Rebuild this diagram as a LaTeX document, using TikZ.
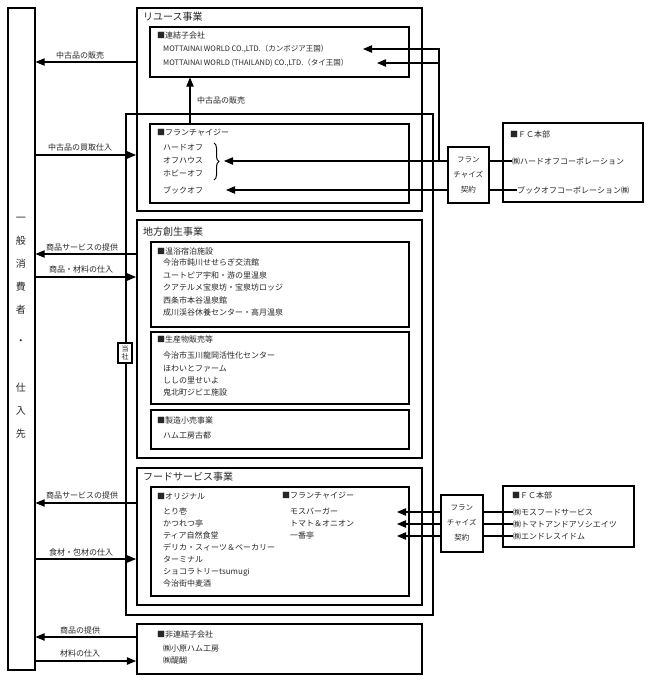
\documentclass[tikz,border=0pt]{standalone}
\usepackage{fontspec}
\setmainfont{Noto Sans CJK JP}
\usetikzlibrary{arrows,decorations.pathreplacing}

\begin{document}
\begin{tikzpicture}
  [x=1pt,y=-1pt,
   every node/.style={inner sep=0,text=black!85,font=\fontsize{8}{12}\selectfont},
   box/.style={draw=black,line width=1.6pt,anchor=north west},
   head/.style={anchor=west},
   title/.style={anchor=west,font=\fontsize{10}{12}\selectfont},
   list/.style={anchor=north west,align=left,font=\fontsize{8}{12.3}\selectfont},
   deal/.style={box,align=center,font=\fontsize{7.5}{15}\selectfont},
   arr/.style={line width=1.1pt,arrows={-{triangle 45}}},
   wire/.style={line width=1.2pt}]
  \useasboundingbox (0,0) rectangle (648,680);

  % general consumers / suppliers
  \node[box,minimum width=27pt,minimum height=662pt] (consumer) at (7,7) {};
  \node[anchor=north,align=center,font=\fontsize{10}{12}\selectfont] (consumertext) at (21,216.5)
    {一\\[11pt]般\\[11pt]消\\[11pt]費\\[11pt]者\\[19pt]・\\[35pt]仕\\[11pt]入\\[11pt]先};

  % the company
  \node[box,minimum width=307pt,minimum height=501pt] (tosha) at (125,113) {};
  \node[draw=black,line width=1.3pt,fill=white,minimum width=14pt,minimum height=20pt,align=center,
        font=\fontsize{7}{8.5}\selectfont] (toshalbl) at (125,353) {当\\社};

  % reuse
  \node[box,minimum width=285pt,minimum height=203pt] (reuse) at (136,7) {};
  \node[title] (reusettl) at (143,17) {リユース事業};
  \node[box,minimum width=259pt,minimum height=50pt] (sub) at (149,26) {};
  \node[head] (subhd) at (157,35) {■連結子会社};
  \node[list,font=\fontsize{7.5}{14}\selectfont] (sublist) at (163,45)
    {MOTTAINAI WORLD CO.,LTD.（カンボジア王国）\\MOTTAINAI WORLD (THAILAND) CO.,LTD.（タイ王国）};
  \node[box,minimum width=259pt,minimum height=79pt] (fr) at (149,123) {};
  \node[head] (frhd) at (157,133) {■フランチャイジー};
  \node[list,font=\fontsize{8}{13}\selectfont] (frlist) at (163,143.8) {ハードオフ\\オフハウス\\ホビーオフ};
  \node[head] (bookoff) at (163,190) {ブックオフ};
  \node[anchor=west] (uplbl) at (197,100) {中古品の販売};

  % regional revitalization
  \node[box,minimum width=285pt,minimum height=238pt] (local) at (136,219) {};
  \node[title] (localttl) at (143,232) {地方創生事業};
  \node[box,minimum width=258pt,minimum height=85pt] (spa) at (150,241) {};
  \node[head] (spahd) at (157,251) {■温浴宿泊施設};
  \node[list,font=\fontsize{8}{12.5}\selectfont] (spalist) at (163,258.8)
    {今治市鈍川せせらぎ交流館\\ユートピア宇和・游の里温泉\\クアテルメ宝泉坊・宝泉坊ロッジ\\西条市本谷温泉館\\成川渓谷休養センター・高月温泉};
  \node[box,minimum width=258pt,minimum height=72pt] (prod) at (150,331) {};
  \node[head] (prodhd) at (157,339) {■生産物販売等};
  \node[list] (prodlist) at (163,351.8)
    {今治市玉川龍岡活性化センター\\ほわいとファーム\\ししの里せいよ\\鬼北町ジビエ施設};
  \node[box,minimum width=258pt,minimum height=39pt] (mfg) at (150,409) {};
  \node[head] (mfghd) at (157,420) {■製造小売事業};
  \node[head] (mfgitem) at (163,435) {ハム工房古都};

  % food service
  \node[box,minimum width=285pt,minimum height=137pt] (food) at (136,467) {};
  \node[title] (foodttl) at (143,477) {フードサービス事業};
  \node[box,minimum width=258pt,minimum height=109pt] (foodin) at (150,486) {};
  \node[head] (orighd) at (157,496) {■オリジナル};
  \node[list,font=\fontsize{8}{12}\selectfont] (origlist) at (163,507.8)
    {とり壱\\かつれつ亭\\ティア自然食堂\\デリカ・スィーツ＆ベーカリー\\ターミナル\\ショコラトリーtsumugi\\今治街中麦酒};
  \node[head] (ffrhd) at (282,496) {■フランチャイジー};
  \node[list,font=\fontsize{8}{12}\selectfont] (ffrlist) at (290,507.8) {モスバーガー\\トマト＆オニオン\\一番亭};

  % non-consolidated
  \node[box,minimum width=285pt,minimum height=50pt] (nonsub) at (136,623) {};
  \node[head] (nonsubhd) at (157,634) {■非連結子会社};
  \node[list] (nonsublist) at (163,644.8) {㈱小原ハム工房\\㈱醍醐};

  % franchise contracts and head offices
  \node[deal,minimum width=41pt,minimum height=56pt] (fc1) at (447,146) {フラン\\チャイズ\\契約};
  \node[box,minimum width=140pt,minimum height=79pt] (hq1) at (502,122) {};
  \node[head] (hq1hd) at (510,134) {■ＦＣ本部};
  \node[head] (hardoff) at (512,161) {㈱ハードオフコーポレーション};
  \node[head] (bookoffco) at (517,190) {ブックオフコーポレーション㈱};

  \node[deal,minimum width=42pt,minimum height=57pt] (fc2) at (440,494) {フラン\\チャイズ\\契約};
  \node[box,minimum width=131pt,minimum height=61pt] (hq2) at (502,485) {};
  \node[head] (hq2hd) at (512,495) {■ＦＣ本部};
  \node[head] (mos) at (513,512) {㈱モスフードサービス};
  \node[head] (tomato) at (513,524) {㈱トマトアンドアソシエイツ};
  \node[head] (endless) at (513,536) {㈱エンドレスイドム};

  % flows with consumers
  \node (l1) at (80,55) {中古品の販売};
  \node (l2) at (80,147) {中古品の買取仕入};
  \node (l3) at (82,247) {商品サービスの提供};
  \node (l4) at (81,269) {商品・材料の仕入};
  \node (l5) at (82,495) {商品サービスの提供};
  \node (l6) at (81,552) {食材・包材の仕入};
  \node (l7) at (80,630) {商品の提供};
  \node (l8) at (80,653) {材料の仕入};

  \coordinate (y1) at (0,62);
  \coordinate (y2) at (0,155);
  \coordinate (y3) at (0,254);
  \coordinate (y4) at (0,277);
  \coordinate (y5) at (0,503);
  \coordinate (y6) at (0,559);
  \coordinate (y7) at (0,637);
  \coordinate (y8) at (0,661);
  \draw[arr] (reuse.west |- y1) -- (consumer.east |- y1);
  \draw[arr] (consumer.east |- y2) -- (reuse.west |- y2);
  \draw[arr] (local.west |- y3) -- (consumer.east |- y3);
  \draw[arr] (consumer.east |- y4) -- (local.west |- y4);
  \draw[arr] (food.west |- y5) -- (consumer.east |- y5);
  \draw[arr] (consumer.east |- y6) -- (food.west |- y6);
  \draw[arr] (nonsub.west |- y7) -- (consumer.east |- y7);
  \draw[arr] (consumer.east |- y8) -- (nonsub.west |- y8);

  % used goods to the subsidiaries
  \coordinate (up) at (190,0);
  \draw[arr] (fr.north -| up) -- (sub.south -| up);

  % top franchise wiring
  \draw[line width=1pt,decorate,decoration={brace,amplitude=5pt}] (214,143) -- (214,180);
  \coordinate (bracetip) at (224,161);
  \coordinate (bookend) at (226,190);
  \coordinate (jn) at (439,161);
  \coordinate (mw1) at (363,49);
  \coordinate (mw2) at (377,63);
  \draw[arr] (fc1.west |- bracetip) -- (bracetip);
  \draw[arr] (fc1.west |- bookend) -- (bookend);
  \draw[arr] (jn) |- (mw1);
  \draw[arr] (jn) |- (mw2);
  \draw[wire] (fc1.east |- hardoff) -- (hardoff.west);
  \draw[wire] (fc1.east |- bookend) -- (bookoffco.west);

  % food franchise wiring
  \coordinate (fa) at (397,0);
  \draw[arr] (fc2.west |- mos) -- (fa |- mos);
  \draw[arr] (fc2.west |- tomato) -- (fa |- tomato);
  \draw[arr] (fc2.west |- endless) -- (fa |- endless);
  \draw[wire] (fc2.east |- mos) -- (mos.west);
  \draw[wire] (fc2.east |- tomato) -- (tomato.west);
  \draw[wire] (fc2.east |- endless) -- (endless.west);
\end{tikzpicture}
\end{document}
